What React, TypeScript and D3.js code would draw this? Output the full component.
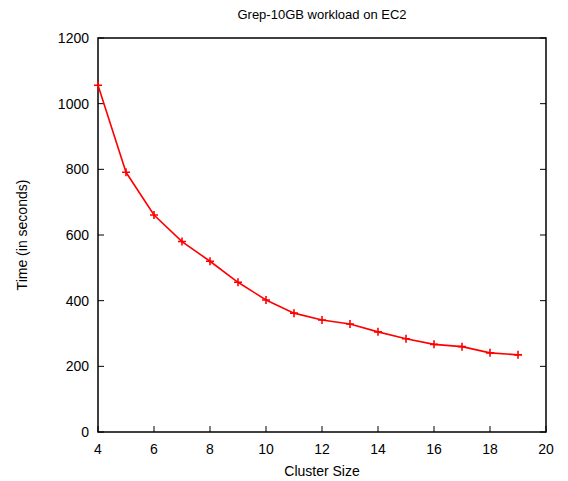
import { useEffect, useRef } from "react";
import * as d3 from "d3";

const clusterSizes = [4, 5, 6, 7, 8, 9, 10, 11, 12, 13, 14, 15, 16, 17, 18, 19];
const times = [1056, 791, 661, 580, 520, 456, 402, 362, 341, 329, 305, 284, 267, 260, 241, 235];
const xTicks = [4, 6, 8, 10, 12, 14, 16, 18, 20];
const yTicks = [0, 200, 400, 600, 800, 1000, 1200];

export default function App() {
  const ref = useRef<SVGSVGElement>(null);

  useEffect(() => {
    const svg = d3.select(ref.current);
    svg.selectAll("*").remove();

    const width = 568;
    const height = 481;
    const margin = { top: 38, right: 22, bottom: 49, left: 98 };
    const innerW = width - margin.left - margin.right;
    const innerH = height - margin.top - margin.bottom;
    const font = "'Liberation Sans', Arial, sans-serif";

    const x = d3.scaleLinear().domain([4, 20]).range([0, innerW]);
    const y = d3.scaleLinear().domain([0, 1200]).range([innerH, 0]);

    const g = svg.append("g").attr("transform", `translate(${margin.left},${margin.top})`);

    // ticks: bottom and left, mirrored on the right
    const tick = 6;
    g.selectAll(".xt")
      .data(xTicks)
      .enter()
      .append("line")
      .attr("x1", (d) => x(d))
      .attr("x2", (d) => x(d))
      .attr("y1", innerH)
      .attr("y2", innerH - tick)
      .attr("stroke", "#000")
      .attr("stroke-width", 1);

    g.selectAll(".yt")
      .data(yTicks)
      .enter()
      .append("line")
      .attr("x1", 0)
      .attr("x2", tick)
      .attr("y1", (d) => y(d))
      .attr("y2", (d) => y(d))
      .attr("stroke", "#000")
      .attr("stroke-width", 1);

    g.selectAll(".yt2")
      .data(yTicks)
      .enter()
      .append("line")
      .attr("x1", innerW)
      .attr("x2", innerW - tick)
      .attr("y1", (d) => y(d))
      .attr("y2", (d) => y(d))
      .attr("stroke", "#000")
      .attr("stroke-width", 1);

    // frame
    g.append("rect")
      .attr("width", innerW)
      .attr("height", innerH)
      .attr("fill", "none")
      .attr("stroke", "#000")
      .attr("stroke-width", 1.5);

    // tick labels
    g.selectAll(".xl")
      .data(xTicks)
      .enter()
      .append("text")
      .attr("x", (d) => x(d))
      .attr("y", innerH + 22)
      .attr("text-anchor", "middle")
      .attr("font-family", font)
      .attr("font-size", 14)
      .text((d) => d);

    g.selectAll(".yl")
      .data(yTicks)
      .enter()
      .append("text")
      .attr("x", -9)
      .attr("y", (d) => y(d) + 5)
      .attr("text-anchor", "end")
      .attr("font-family", font)
      .attr("font-size", 14)
      .text((d) => d);

    // line
    const pts = clusterSizes.map((c, i) => [c, times[i]] as [number, number]);
    g.append("path")
      .datum(pts)
      .attr("fill", "none")
      .attr("stroke", "#ff0000")
      .attr("stroke-width", 1.6)
      .attr("d", d3.line<[number, number]>().x((d) => x(d[0])).y((d) => y(d[1])));

    // plus markers
    const sym = d3.symbol().type(d3.symbolCross);
    const plus = (d: [number, number]) =>
      `M${x(d[0]) - 4},${y(d[1])}h8M${x(d[0])},${y(d[1]) - 4}v8`;
    void sym;
    g.selectAll(".pt")
      .data(pts)
      .enter()
      .append("path")
      .attr("d", plus)
      .attr("stroke", "#ff0000")
      .attr("stroke-width", 1.6)
      .attr("fill", "none");

    // titles
    svg.append("text")
      .attr("x", margin.left + innerW / 2)
      .attr("y", 19)
      .attr("text-anchor", "middle")
      .attr("font-family", font)
      .attr("font-size", 13)
      .text("Grep-10GB workload on EC2");

    svg.append("text")
      .attr("x", margin.left + innerW / 2)
      .attr("y", 476)
      .attr("text-anchor", "middle")
      .attr("font-family", font)
      .attr("font-size", 14)
      .text("Cluster Size");

    svg.append("text")
      .attr("transform", `translate(27,${margin.top + innerH / 2}) rotate(-90)`)
      .attr("text-anchor", "middle")
      .attr("font-family", font)
      .attr("font-size", 14)
      .text("Time (in seconds)");
  }, []);

  return (
    <svg
      ref={ref}
      width={568}
      height={481}
      style={{ position: "absolute", left: 0, top: 0, background: "#fff" }}
    />
  );
}
